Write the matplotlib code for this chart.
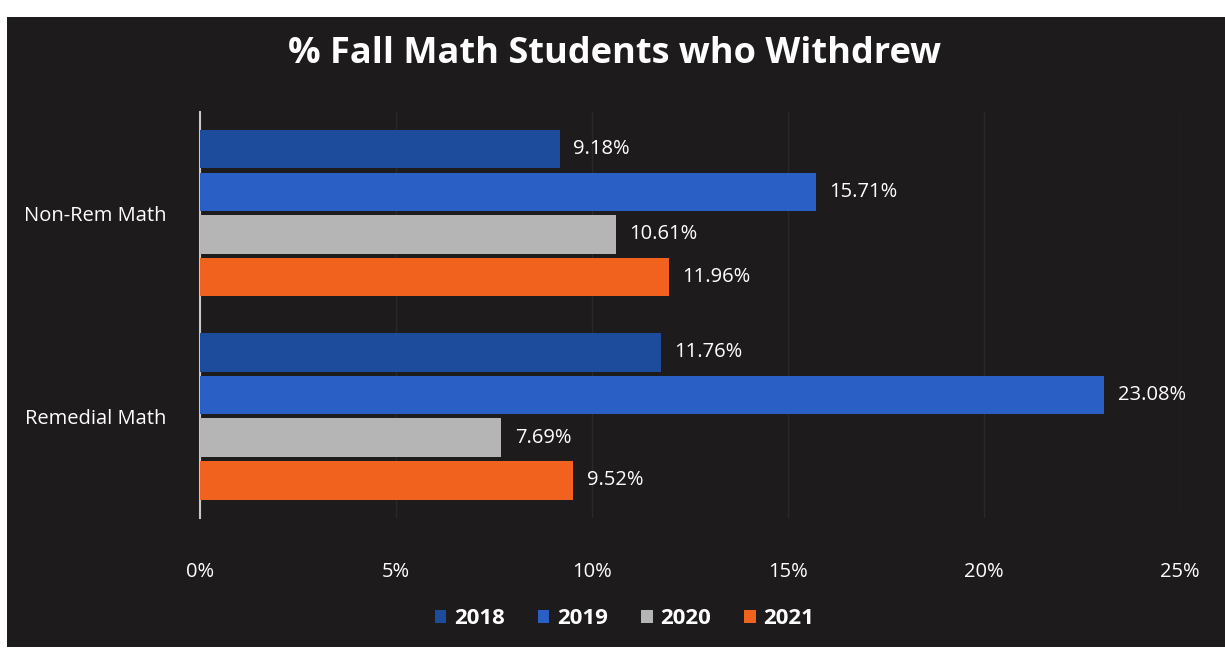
import matplotlib
matplotlib.use('Agg')
import matplotlib.pyplot as plt
from matplotlib.patches import Rectangle
import numpy as np

plt.rcParams['font.family'] = ['Open Sans', 'DejaVu Sans']

categories = ['Remedial Math', 'Non-Rem Math']
years = ['2018', '2019', '2020', '2021']
values = {
    '2018': [11.76, 9.18],
    '2019': [23.08, 15.71],
    '2020': [7.69, 10.61],
    '2021': [9.52, 11.96],
}
colors = ['#1d4c9c', '#2a5fc6', '#b5b5b5', '#f0621e']
xticks = [0, 5, 10, 15, 20, 25]

bg = '#1e1b1c'

fig = plt.figure(figsize=(12.25, 6.64), dpi=100, facecolor='white')
# dark chart panel inside a thin white scan border
fig.patches.append(Rectangle((0.006, 0.025), 0.994, 0.95, transform=fig.transFigure,
                             facecolor=bg, edgecolor='none', zorder=-10))

ax = fig.add_axes([0.163, 0.22, 0.80, 0.612])
ax.set_facecolor(bg)

ypos = np.arange(len(categories))
offsets = [0.315, 0.105, -0.105, -0.315]
for yr, off, c in zip(years, offsets, colors):
    vals = values[yr]
    ax.barh(ypos + off, vals, height=0.19, color=c, label=yr, zorder=3)
    for y, v in zip(ypos + off, vals):
        ax.text(v + 0.35, y, '%.2f%%' % v, color='white', fontsize=14.5,
                va='center', ha='left', zorder=4)

ax.set_xlim(0, 25)
ax.set_ylim(-0.5, 1.5)
ax.set_xticks(xticks)
ax.set_xticklabels(['%d%%' % t for t in xticks])
ax.set_yticks(ypos)
ax.set_yticklabels(categories)
ax.tick_params(axis='both', length=0, colors='white', labelsize=14.5)
ax.tick_params(axis='x', pad=32)
ax.tick_params(axis='y', pad=24)
ax.grid(axis='x', color='#2b2829', linewidth=1, zorder=0)
for s in ['top', 'right', 'bottom']:
    ax.spines[s].set_visible(False)
ax.spines['left'].set_color('#c8c8c8')
ax.spines['left'].set_linewidth(1.5)

fig.text(0.502, 0.918, '% Fall Math Students who Withdrew', color='white',
         fontsize=26, fontweight='bold', ha='center', va='center')

leg = fig.legend(loc='center', bbox_to_anchor=(0.51, 0.068), ncol=4, frameon=False,
                 handlelength=0.5, handleheight=0.5, handletextpad=0.35, columnspacing=1.5,
                 prop={'size': 16, 'weight': 'bold'})
for t in leg.get_texts():
    t.set_color('white')

plt.savefig('out.png', dpi=100, facecolor=fig.get_facecolor())
